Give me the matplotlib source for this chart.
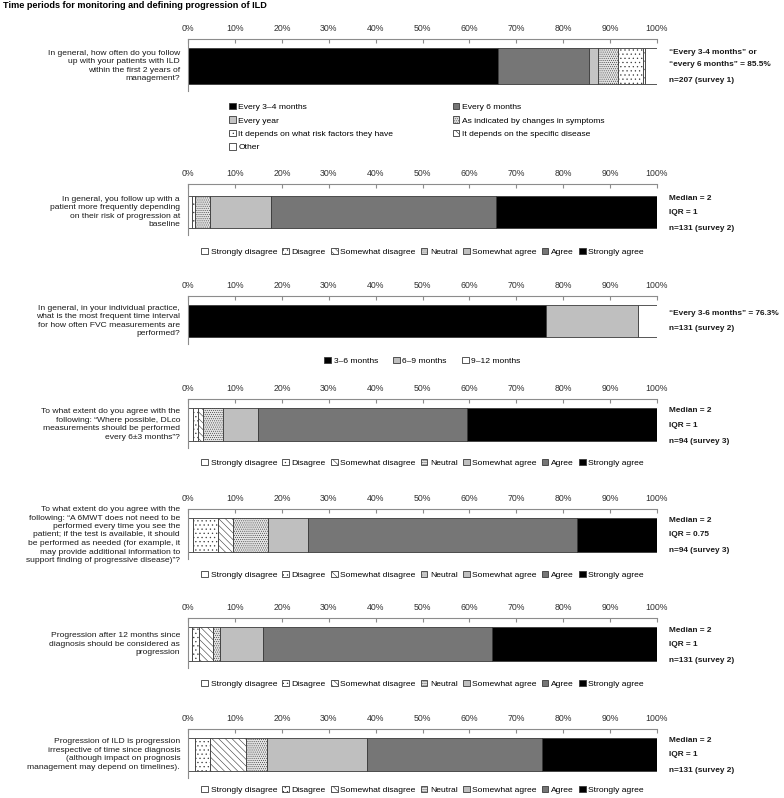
import numpy as np
import matplotlib.pyplot as plt

plt.rcParams['font.family'] = ['Liberation Sans', 'DejaVu Sans']
plt.rcParams['hatch.linewidth'] = 0.4

W, H = 784, 798

title = "Time periods for monitoring and defining progression of ILD"

# --- data -------------------------------------------------------------
followup_labels = ["Every 3\u20134 months", "Every 6 months", "Every year",
                   "As indicated by changes in symptoms",
                   "It depends on what risk factors they have",
                   "It depends on the specific disease", "Other"]
followup_pct = [66.2, 19.3, 1.9, 4.3, 5.3, 0.5, 2.5]

fvc_labels = ["3\u20136 months", "6\u20139 months", "9\u201312 months"]
fvc_pct = [76.3, 19.8, 3.9]

agree_labels = ["Strongly disagree", "Disagree", "Somewhat disagree", "Neutral",
                "Somewhat agree", "Agree", "Strongly agree"]
risk_counts = [1, 1, 0, 4, 17, 63, 45]
dlco_counts = [1, 1, 1, 4, 7, 42, 38]
mwt_counts = [1, 5, 3, 7, 8, 54, 16]
prog12_counts = [1, 2, 4, 2, 12, 64, 46]
progany_counts = [2, 4, 10, 6, 28, 49, 32]

questions = [
    "In general, how often do you follow\nup with your patients with ILD\nwithin the first 2 years of\nmanagement?",
    "In general, you follow up with a\npatient more frequently depending\non their risk of progression at\nbaseline",
    "In general, in your individual practice,\nwhat is the most frequent time interval\nfor how often FVC measurements are\nperformed?",
    "To what extent do you agree with the\nfollowing: \u201cWhere possible, DLco\nmeasurements should be performed\nevery 6\u00b13 months\u201d?",
    "To what extent do you agree with the\nfollowing: \u201cA 6MWT does not need to be\nperformed every time you see the\npatient; if the test is available, it should\nbe performed as needed (for example, it\nmay provide additional information to\nsupport finding of progressive disease)\u201d?",
    "Progression after 12 months since\ndiagnosis should be considered as\nprogression",
    "Progression of ILD is progression\nirrespective of time since diagnosis\n(although impact on prognosis\nmanagement may depend on timelines).",
]

notes = [
    ["\u201cEvery 3-4 months\u201d or", "\u201cevery 6 months\u201d = 85.5%", "n=207 (survey 1)"],
    ["Median = 2", "IQR = 1", "n=131 (survey 2)"],
    ["\u201cEvery 3-6 months\u201d = 76.3%", "n=131 (survey 2)"],
    ["Median = 2", "IQR = 1", "n=94 (survey 3)"],
    ["Median = 2", "IQR = 0.75", "n=94 (survey 3)"],
    ["Median = 2", "IQR = 1", "n=131 (survey 2)"],
    ["Median = 2", "IQR = 1", "n=131 (survey 2)"],
]

# --- styles -----------------------------------------------------------
followup_colors = ["black", "#767676", "#c4c4c4", "#e4e4e4", "white", "white", "white"]
followup_hatch = [None, None, None, "........", "....", "\\\\\\\\", None]
fvc_colors = ["black", "#bfbfbf", "white"]
fvc_hatch = [None, None, None]
agree_colors = ["white", "white", "white", "#e4e4e4", "#bfbfbf", "#767676", "black"]
agree_hatch = [None, "....", "\\\\\\\\\\", "........", None, None, None]

# layout in pixels
line_y = [39, 184, 296, 399, 509, 618, 729]
bar_top = [48, 196, 305, 408, 518, 627, 738]
bar_bot = [84, 228, 337, 441, 552, 661, 771]
leg_y = [103, 252, 361, 463, 575, 684, 790]
x0, x1 = 188.3, 656.7

fig = plt.figure(figsize=(W / 100, H / 100), dpi=100)
fig.text(3 / W, 1 - 5 / H, title, fontsize=6.6, fontweight='bold', va='center', ha='left')

pct = lambda c: list(np.array(c) / np.sum(c) * 100)
panels = [
    (followup_pct, followup_labels, followup_colors, followup_hatch),
    (pct(risk_counts), agree_labels, agree_colors, agree_hatch),
    (fvc_pct, fvc_labels, fvc_colors, fvc_hatch),
    (pct(dlco_counts), agree_labels, agree_colors, agree_hatch),
    (pct(mwt_counts), agree_labels, agree_colors, agree_hatch),
    (pct(prog12_counts), agree_labels, agree_colors, agree_hatch),
    (pct(progany_counts), agree_labels, agree_colors, agree_hatch),
]

for i, (vals, labels, colors, hatches) in enumerate(panels):
    top = line_y[i]
    btop, bbot = bar_top[i], bar_bot[i]
    sbot = bbot + 7
    ax = fig.add_axes([x0 / W, 1 - sbot / H, (x1 - x0) / W, (sbot - top) / H])
    ax.set_xlim(0, 100)
    ax.set_ylim(sbot, top)
    left = 0
    handles = []
    for v, lab, c, h in zip(vals, labels, colors, hatches):
        b = ax.barh((btop + bbot) / 2, v, left=left, height=bbot - btop, color=c,
                    edgecolor='#3a3a3a', linewidth=0.6, hatch=h, label=lab)
        handles.append(b)
        left += v
    for s in ['right', 'bottom']:
        ax.spines[s].set_visible(False)
    for s in ['top', 'left']:
        ax.spines[s].set_color('#8c8c8c')
        ax.spines[s].set_linewidth(0.8)
    ax.xaxis.tick_top()
    ax.set_xticks(np.arange(0, 101, 10))
    ax.set_xticklabels([f"{t}%" for t in range(0, 101, 10)])
    ax.tick_params(axis='x', direction='in', length=3, color='#8c8c8c',
                   labelsize=6.3, labelcolor='#333333', pad=4)
    ax.set_yticks([])

    ymid = (btop + bbot) / 2
    fig.text(180 / W, 1 - ymid / H, questions[i], ha='right', va='center',
             fontsize=6.1, color='#1a1a1a', linespacing=1.3)

    if i == 0:
        ny = [btop + 5, btop + 16, btop + 32]
    elif i == 2:
        ny = [btop + 9, btop + 24]
    else:
        ny = [btop + 3, btop + 17, btop + 33]
    for t, yy in zip(notes[i], ny):
        fig.text(669 / W, 1 - yy / H, t, ha='left', va='center', fontsize=5.95,
                 fontweight='bold', color='#1a1a1a')

    if i == 0:
        order = [0, 2, 4, 6, 1, 3, 5]
        fig.legend([handles[k] for k in order], [labels[k] for k in order],
                   loc='upper left', bbox_to_anchor=(229 / W, 1 - leg_y[i] / H),
                   ncol=2, frameon=False, fontsize=6.1, handlelength=0.8,
                   handleheight=0.8, handletextpad=0.3, columnspacing=7.0,
                   labelspacing=0.62, borderpad=0, borderaxespad=0)
    else:
        ncol = len(labels)
        fig.legend(handles, labels, loc='center',
                   bbox_to_anchor=((x0 + x1) / 2 / W, 1 - leg_y[i] / H),
                   ncol=ncol, frameon=False, fontsize=6.1, handlelength=0.8,
                   handleheight=0.8, handletextpad=0.3,
                   columnspacing=0.6 if ncol > 3 else 1.8,
                   borderpad=0, borderaxespad=0)

fig.savefig("out.png", dpi=100)
